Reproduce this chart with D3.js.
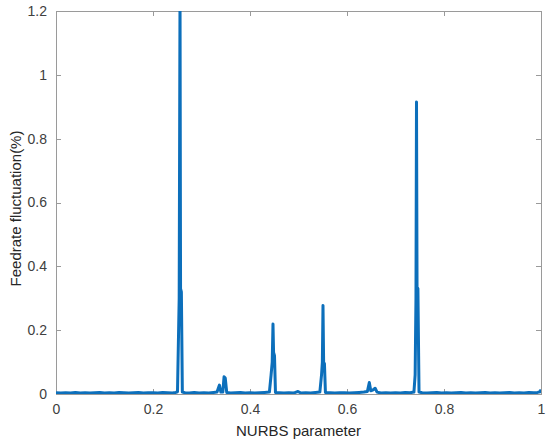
<!DOCTYPE html>
<html lang="en">
  <head>
    <meta charset="utf-8">
    <title>Feedrate fluctuation</title>
    <script src="https://cdn.jsdelivr.net/npm/d3@7"></script>
    <style>
      body { margin: 0; background: #fff; }
      .axis path, .axis line { fill: none; stroke: #9a9a9a; shape-rendering: crispEdges; }
      .axis text { font-family: Arial, "Liberation Sans", sans-serif; font-size: 14px; fill: #404040; }
      .label { font-family: Arial, "Liberation Sans", sans-serif; font-size: 15px; fill: #262626; }
    </style>
  </head>
  <body>
    <script>
      // NURBS parameter u
      var paramU = [
        0.000, 0.010, 0.020, 0.030, 0.040, 0.050, 0.060, 0.070, 0.080, 0.090,
        0.100, 0.110, 0.120, 0.130, 0.140, 0.150, 0.160, 0.170, 0.180, 0.190,
        0.200, 0.210, 0.220, 0.230, 0.240, 0.247, 0.2505, 0.2540, 0.2557, 0.2568, 0.2585, 0.2605,
        0.266, 0.275, 0.285, 0.295, 0.305, 0.315, 0.325, 0.332, 0.3370, 0.3400,
        0.3440, 0.3465, 0.3490, 0.3520, 0.360, 0.370, 0.380, 0.390, 0.400, 0.410,
        0.420, 0.430, 0.440, 0.4435, 0.4458, 0.4474, 0.4486, 0.4505, 0.4525,
        0.460, 0.470, 0.480, 0.490, 0.499, 0.505, 0.515, 0.525, 0.535, 0.544,
        0.5475, 0.5492, 0.5505, 0.5518, 0.5535, 0.5555, 0.565, 0.575, 0.585, 0.595,
        0.605, 0.615, 0.625, 0.635, 0.642, 0.6460, 0.6490, 0.6530, 0.6580, 0.6620,
        0.670, 0.680, 0.690, 0.700, 0.710, 0.720, 0.730, 0.738, 0.7405, 0.7422,
        0.7433, 0.7444, 0.7462, 0.7485, 0.755, 0.765, 0.775, 0.785, 0.795, 0.805,
        0.815, 0.825, 0.835, 0.845, 0.855, 0.865, 0.875, 0.885, 0.895, 0.905,
        0.915, 0.925, 0.935, 0.945, 0.955, 0.965, 0.975, 0.985, 0.993, 0.998, 1.000
      ];
      // feedrate fluctuation (%)
      var fluct = [
        0.004, 0.003, 0.004, 0.003, 0.005, 0.003, 0.004, 0.003, 0.004, 0.005,
        0.003, 0.004, 0.003, 0.005, 0.004, 0.003, 0.004, 0.005, 0.003, 0.004,
        0.004, 0.003, 0.005, 0.004, 0.003, 0.005, 0.007, 0.300, 1.250, 0.330, 0.320, 0.006,
        0.004, 0.003, 0.005, 0.003, 0.004, 0.003, 0.005, 0.006, 0.028, 0.006,
        0.006, 0.054, 0.050, 0.005, 0.003, 0.004, 0.005, 0.003, 0.004, 0.003,
        0.004, 0.005, 0.006, 0.060, 0.100, 0.219, 0.130, 0.120, 0.005,
        0.004, 0.003, 0.004, 0.003, 0.008, 0.003, 0.004, 0.003, 0.005, 0.006,
        0.060, 0.100, 0.277, 0.100, 0.095, 0.005, 0.004, 0.003, 0.004, 0.004,
        0.003, 0.004, 0.005, 0.006, 0.008, 0.036, 0.010, 0.012, 0.018, 0.006,
        0.003, 0.004, 0.003, 0.004, 0.003, 0.005, 0.004, 0.006, 0.060, 0.300,
        0.915, 0.335, 0.330, 0.006, 0.004, 0.003, 0.004, 0.005, 0.003, 0.004,
        0.003, 0.004, 0.005, 0.003, 0.004, 0.003, 0.004, 0.005, 0.003, 0.004,
        0.003, 0.004, 0.005, 0.003, 0.004, 0.003, 0.005, 0.004, 0.005, 0.007, 0.014
      ];
      var xTicks = [0, 0.2, 0.4, 0.6, 0.8, 1];
      var yTicks = [0, 0.2, 0.4, 0.6, 0.8, 1, 1.2];

      var width = 550, height = 446;
      var margin = {top: 11, right: 9, bottom: 52, left: 56};
      var w = width - margin.left - margin.right,
          h = height - margin.top - margin.bottom;

      var data = paramU.map(function(u, i) { return [u, fluct[i]]; });

      var xScale = d3.scaleLinear().domain([0, 1]).range([0, w]);
      var yScale = d3.scaleLinear().domain([0, 1.2]).range([h, 0]);

      var svg = d3.select("body").append("svg")
        .attr("width", width)
        .attr("height", height);

      var g = svg.append("g")
        .attr("transform", "translate(" + margin.left + "," + margin.top + ")");

      svg.append("defs").append("clipPath").attr("id", "clip")
        .append("rect").attr("width", w).attr("height", h);

      // box
      g.append("rect")
        .attr("width", w).attr("height", h)
        .attr("fill", "none").attr("stroke", "#9a9a9a")
        .attr("shape-rendering", "crispEdges");

      // axes, ticks pointing inward (matlab style)
      var tk = 5;
      g.append("g").attr("class", "axis")
        .attr("transform", "translate(0," + h + ")")
        .call(d3.axisBottom(xScale).tickValues(xTicks).tickFormat(d3.format("~g"))
          .tickSizeInner(-tk).tickSizeOuter(0).tickPadding(10));
      g.append("g").attr("class", "axis")
        .call(d3.axisTop(xScale).tickValues(xTicks).tickFormat("")
          .tickSizeInner(-tk).tickSizeOuter(0));
      g.append("g").attr("class", "axis")
        .call(d3.axisLeft(yScale).tickValues(yTicks).tickFormat(d3.format("~g"))
          .tickSizeInner(-tk).tickSizeOuter(0).tickPadding(9));
      g.append("g").attr("class", "axis")
        .attr("transform", "translate(" + w + ",0)")
        .call(d3.axisRight(yScale).tickValues(yTicks).tickFormat("")
          .tickSizeInner(-tk).tickSizeOuter(0));

      var line = d3.line()
        .x(function(d) { return xScale(d[0]); })
        .y(function(d) { return yScale(d[1]); });

      g.append("path")
        .datum(data)
        .attr("clip-path", "url(#clip)")
        .attr("fill", "none")
        .attr("stroke", "#0c6fbb")
        .attr("stroke-width", 3)
        .attr("stroke-linejoin", "round")
        .attr("d", line);

      // labels
      svg.append("text").attr("class", "label")
        .attr("x", margin.left + w / 2).attr("y", 436)
        .attr("text-anchor", "middle")
        .text("NURBS parameter");

      svg.append("text").attr("class", "label")
        .attr("transform", "translate(21," + (margin.top + h / 2 + 6) + ") rotate(-90)")
        .attr("text-anchor", "middle")
        .text("Feedrate fluctuation(%)");
    </script>
  </body>
</html>
